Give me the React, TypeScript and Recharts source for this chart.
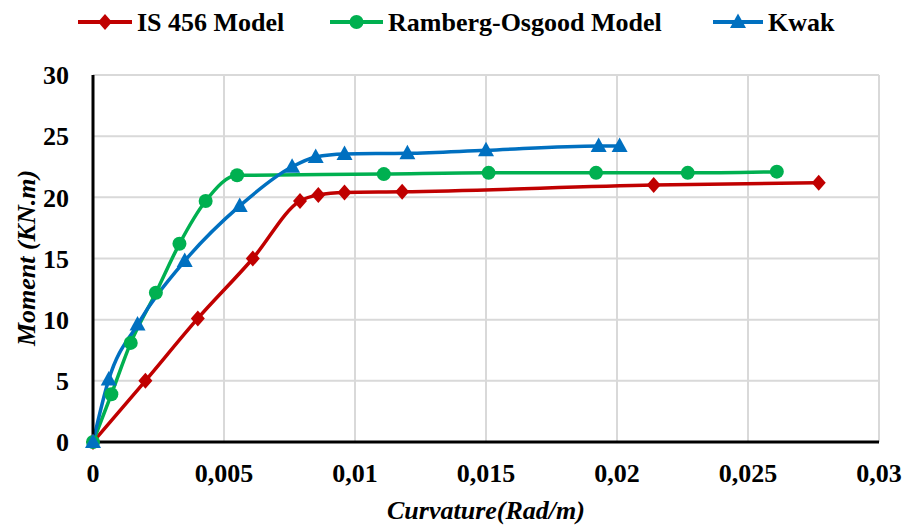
import React from 'react';
import { LineChart, Line, XAxis, YAxis, CartesianGrid, Label } from 'recharts';

const is456X = [0, 0.002, 0.004, 0.0061, 0.0079, 0.0086, 0.0096, 0.0118, 0.0214, 0.0277];
const is456Y = [0, 5, 10.1, 15, 19.7, 20.2, 20.4, 20.45, 21.0, 21.2];
const roX = [0, 0.0007, 0.00144, 0.0024, 0.0033, 0.0043, 0.0055, 0.0111, 0.0151, 0.0192, 0.0227, 0.0261];
const roY = [0, 3.9, 8.1, 12.2, 16.2, 19.7, 21.8, 21.9, 22.0, 22.0, 22.0, 22.1];
const kwakX = [0, 0.0006, 0.0017, 0.0035, 0.0056, 0.0076, 0.0085, 0.0096, 0.012, 0.015, 0.0193, 0.0201];
const kwakY = [0, 5.1, 9.6, 14.8, 19.3, 22.5, 23.3, 23.55, 23.6, 23.85, 24.2, 24.2];

const xTicks = [0, 0.005, 0.01, 0.015, 0.02, 0.025, 0.03];
const xTickLabels = ['0', '0,005', '0,01', '0,015', '0,02', '0,025', '0,03'];
const yTicks = [0, 5, 10, 15, 20, 25, 30];

const seriesNames = ['IS 456 Model', 'Ramberg-Osgood Model', 'Kwak'];
const colors = ['#C00000', '#00B050', '#0070C0'];

const toPoints = (xs: number[], ys: number[]) => xs.map((x, i) => ({ x, y: ys[i] }));
const is456Data = toPoints(is456X, is456Y);
const roData = toPoints(roX, roY);
const kwakData = toPoints(kwakX, kwakY);

const FONT = "'Liberation Serif', 'Times New Roman', Tinos, 'DejaVu Serif', serif";

const diamondPts = (cx: number, cy: number) => `${cx},${cy - 8} ${cx + 7},${cy} ${cx},${cy + 8} ${cx - 7},${cy}`;
const trianglePts = (cx: number, cy: number) => `${cx},${cy - 8.5} ${cx + 8},${cy + 6} ${cx - 8},${cy + 6}`;

const DiamondDot = (props: any) => {
  const { cx, cy, index } = props;
  if (cx == null || cy == null) return null;
  return <polygon key={`d${index}`} points={diamondPts(cx, cy)} fill={colors[0]} />;
};
const CircleDot = (props: any) => {
  const { cx, cy, index } = props;
  if (cx == null || cy == null) return null;
  return <circle key={`c${index}`} cx={cx} cy={cy} r={7} fill={colors[1]} />;
};
const TriangleDot = (props: any) => {
  const { cx, cy, index } = props;
  if (cx == null || cy == null) return null;
  return <polygon key={`t${index}`} points={trianglePts(cx, cy)} fill={colors[2]} />;
};

const legendItems = [
  { lineX: 78, textX: 137, name: seriesNames[0], color: colors[0], shape: 'diamond' },
  { lineX: 330, textX: 388, name: seriesNames[1], color: colors[1], shape: 'circle' },
  { lineX: 713, textX: 768, name: seriesNames[2], color: colors[2], shape: 'triangle' },
];

const textStyle = { fontFamily: FONT, fontWeight: 'bold' as const, fontSize: 26, fill: '#000' };

const LegendSvg = () => (
  <svg width={904} height={50} style={{ position: 'absolute', left: 0, top: 0 }}>
    {legendItems.map((it) => {
      const x1 = it.lineX;
      const x2 = it.textX - 5;
      const cx = (x1 + x2) / 2;
      const cy = 22;
      return (
        <g key={it.name}>
          <line x1={x1} x2={x2} y1={cy} y2={cy} stroke={it.color} strokeWidth={4} />
          {it.shape === 'diamond' && <polygon points={diamondPts(cx, cy)} fill={it.color} />}
          {it.shape === 'circle' && <circle cx={cx} cy={cy} r={7} fill={it.color} />}
          {it.shape === 'triangle' && <polygon points={trianglePts(cx, cy)} fill={it.color} />}
          <text x={it.textX} y={31} style={textStyle}>
            {it.name}
          </text>
        </g>
      );
    })}
  </svg>
);

const YTitle = () => (
  <text
    x={26}
    y={258}
    transform="rotate(-90 26 258)"
    textAnchor="middle"
    dominantBaseline="central"
    style={{ ...textStyle, fontStyle: 'italic' }}
  >
    Moment (KN.m)
  </text>
);

const XTitle = () => (
  <text x={486} y={519} textAnchor="middle" style={{ ...textStyle, fontStyle: 'italic' }}>
    Curvature(Rad/m)
  </text>
);

export default function App() {
  return (
    <div style={{ position: 'absolute', left: 0, top: 0, width: 904, height: 529, background: '#fff', fontFamily: FONT }}>
      <LineChart width={904} height={529} margin={{ top: 75, right: 25, left: 0, bottom: 0 }}>
        <CartesianGrid stroke="#d9d9d9" strokeWidth={2} />
        <XAxis
          type="number"
          dataKey="x"
          domain={[0, 0.03]}
          ticks={xTicks}
          tickFormatter={(v: number) => xTickLabels[xTicks.indexOf(v)] ?? String(v)}
          height={87}
          tickSize={0}
          tickMargin={22}
          axisLine={{ stroke: '#000', strokeWidth: 3 }}
          tick={textStyle}
          label={<Label content={() => <XTitle />} />}
        />
        <YAxis
          type="number"
          dataKey="y"
          domain={[0, 30]}
          ticks={yTicks}
          width={93}
          tickSize={0}
          tickMargin={24}
          axisLine={{ stroke: '#000', strokeWidth: 3 }}
          tick={textStyle}
          label={<Label content={() => <YTitle />} />}
        />
        <Line
          data={is456Data}
          dataKey="y"
          name={seriesNames[0]}
          type="monotone"
          stroke={colors[0]}
          strokeWidth={3.5}
          dot={DiamondDot}
          activeDot={false}
          isAnimationActive={false}
        />
        <Line
          data={roData}
          dataKey="y"
          name={seriesNames[1]}
          type="monotone"
          stroke={colors[1]}
          strokeWidth={3.5}
          dot={CircleDot}
          activeDot={false}
          isAnimationActive={false}
        />
        <Line
          data={kwakData}
          dataKey="y"
          name={seriesNames[2]}
          type="monotone"
          stroke={colors[2]}
          strokeWidth={3.5}
          dot={TriangleDot}
          activeDot={false}
          isAnimationActive={false}
        />
      </LineChart>
      <LegendSvg />
    </div>
  );
}
